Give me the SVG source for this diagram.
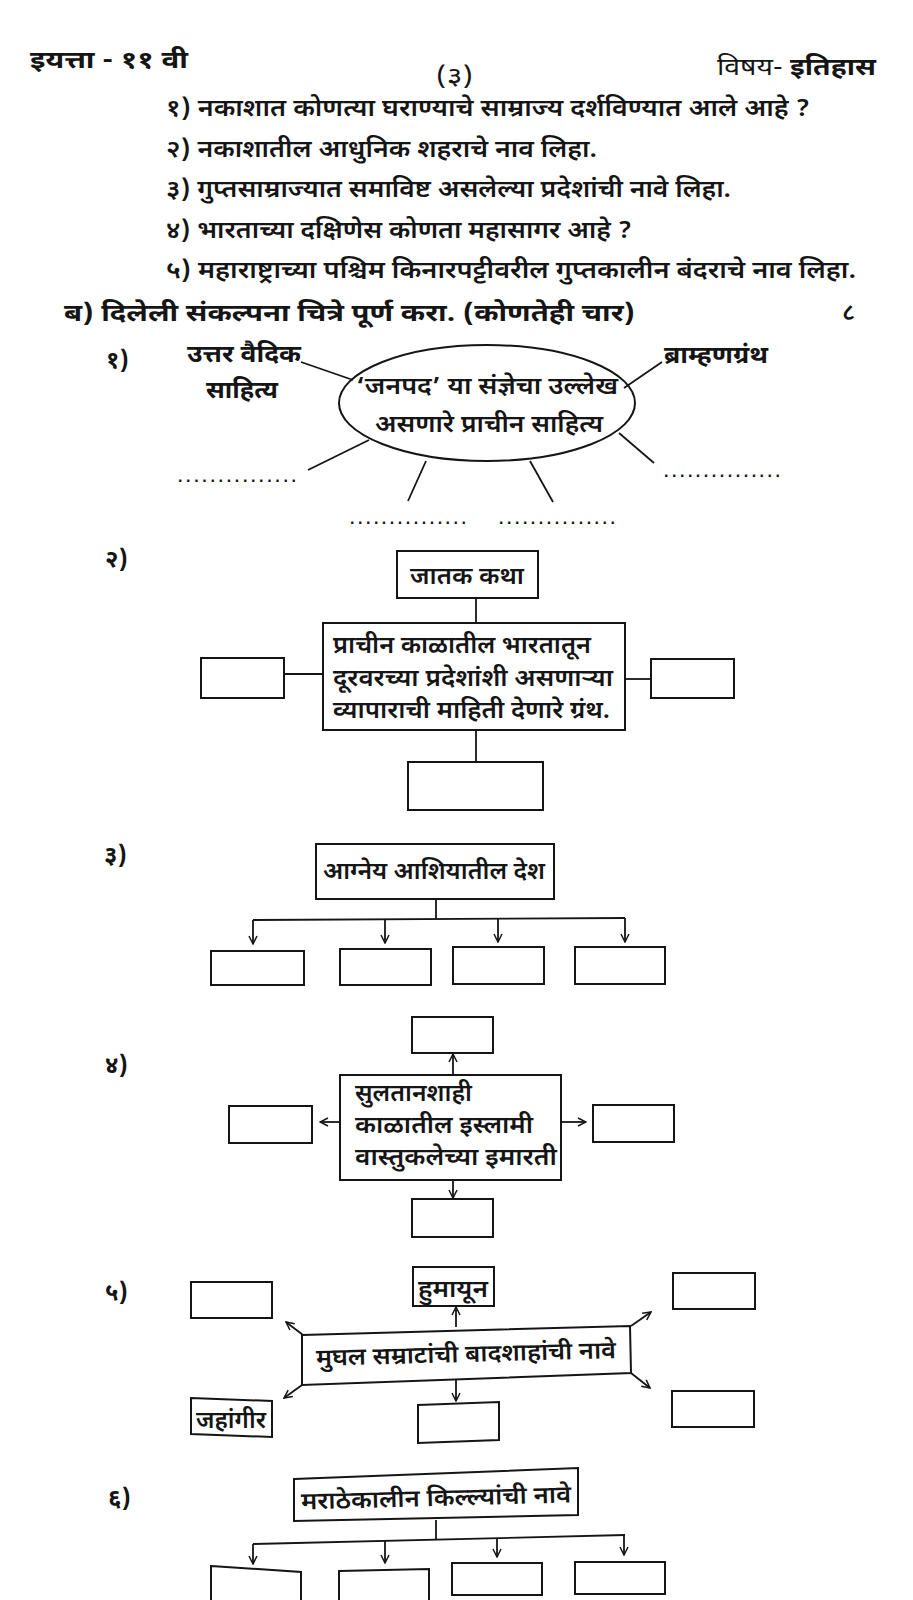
<svg xmlns="http://www.w3.org/2000/svg" width="913" height="1600" viewBox="0 0 913 1600">
<defs>
<style>
.t{font-family:'Noto Sans Devanagari','Noto Sans','DejaVu Sans',sans-serif;fill:#151515;font-size:24px;font-weight:600}
.b{font-weight:bold}
.r{font-weight:normal}
.box{fill:none;stroke:#151515;stroke-width:2}
.ln{fill:none;stroke:#151515;stroke-width:1.8}
.dots{font-family:'Liberation Sans',sans-serif;font-weight:bold;font-size:16px;fill:#151515}
</style>
<marker id="ah" viewBox="0 0 10 10" refX="9" refY="5" markerWidth="10" markerHeight="10" markerUnits="userSpaceOnUse" orient="auto">
<path d="M1,1 L9,5 L1,9" fill="none" stroke="#151515" stroke-width="1.5"/>
</marker>
</defs>
<rect width="913" height="1600" fill="#ffffff"/>

<g id="header">
<text class="t b" x="30" y="68" textLength="158" lengthAdjust="spacingAndGlyphs">इयत्ता - ११ वी</text>
<text class="t r" x="436" y="84" textLength="37" lengthAdjust="spacingAndGlyphs">(३)</text>
<text class="t" x="717" y="75" textLength="159" lengthAdjust="spacingAndGlyphs"><tspan class="r">विषय- </tspan><tspan class="b">इतिहास</tspan></text>
</g>

<g id="questions">
<text class="t" x="166" y="116" textLength="644" lengthAdjust="spacingAndGlyphs">१) नकाशात कोणत्या घराण्याचे साम्राज्य दर्शविण्यात आले आहे ?</text>
<text class="t" x="166" y="157" textLength="431" lengthAdjust="spacingAndGlyphs">२) नकाशातील आधुनिक शहराचे नाव लिहा.</text>
<text class="t" x="166" y="197" textLength="565" lengthAdjust="spacingAndGlyphs">३) गुप्तसाम्राज्यात समाविष्ट असलेल्या प्रदेशांची नावे लिहा.</text>
<text class="t" x="166" y="238" textLength="466" lengthAdjust="spacingAndGlyphs">४) भारताच्या दक्षिणेस कोणता महासागर आहे ?</text>
<text class="t" x="166" y="278" textLength="690" lengthAdjust="spacingAndGlyphs">५) महाराष्ट्राच्या पश्चिम किनारपट्टीवरील गुप्तकालीन बंदराचे नाव लिहा.</text>
<text class="t b" x="64" y="321" font-size="25" textLength="571" lengthAdjust="spacingAndGlyphs">ब) दिलेली संकल्पना चित्रे पूर्ण करा. (कोणतेही चार)</text>
<text class="t" x="842" y="320">८</text>
</g>

<g id="connectors">
<!-- diagram 1 -->
<line class="ln" x1="301" y1="362" x2="353" y2="380"/>
<line class="ln" x1="624" y1="388" x2="662" y2="362"/>
<line class="ln" x1="369" y1="440" x2="308" y2="470"/>
<line class="ln" x1="619" y1="433" x2="654" y2="463"/>
<line class="ln" x1="426" y1="461" x2="408" y2="501"/>
<line class="ln" x1="530" y1="461" x2="553" y2="502"/>
<!-- diagram 2 -->
<line class="ln" x1="476" y1="598" x2="476" y2="623"/>
<line class="ln" x1="284" y1="674" x2="323" y2="674"/>
<line class="ln" x1="625" y1="679" x2="651" y2="679"/>
<line class="ln" x1="476" y1="730" x2="476" y2="762"/>
<!-- diagram 3 -->
<line class="ln" x1="436" y1="899" x2="436" y2="919"/>
<line class="ln" x1="253" y1="920" x2="625" y2="918"/>
<line class="ln" x1="253" y1="920" x2="253" y2="944" marker-end="url(#ah)"/>
<line class="ln" x1="385" y1="919" x2="385" y2="943" marker-end="url(#ah)"/>
<line class="ln" x1="498" y1="919" x2="498" y2="942" marker-end="url(#ah)"/>
<line class="ln" x1="625" y1="918" x2="625" y2="942" marker-end="url(#ah)"/>
<!-- diagram 4 -->
<line class="ln" x1="453" y1="1075" x2="453" y2="1054" marker-end="url(#ah)"/>
<line class="ln" x1="340" y1="1122" x2="320" y2="1122" marker-end="url(#ah)"/>
<line class="ln" x1="561" y1="1122" x2="586" y2="1122" marker-end="url(#ah)"/>
<line class="ln" x1="453" y1="1180" x2="453" y2="1198" marker-end="url(#ah)"/>
<!-- diagram 5 -->
<line class="ln" x1="456" y1="1327" x2="456" y2="1307" marker-end="url(#ah)"/>
<line class="ln" x1="303" y1="1335" x2="286" y2="1322" marker-end="url(#ah)"/>
<line class="ln" x1="631" y1="1326" x2="651" y2="1312" marker-end="url(#ah)"/>
<line class="ln" x1="302" y1="1385" x2="284" y2="1398" marker-end="url(#ah)"/>
<line class="ln" x1="631" y1="1373" x2="650" y2="1388" marker-end="url(#ah)"/>
<line class="ln" x1="456" y1="1380" x2="456" y2="1401" marker-end="url(#ah)"/>
<!-- diagram 6 -->
<line class="ln" x1="436" y1="1520" x2="436" y2="1539"/>
<line class="ln" x1="253" y1="1544" x2="625" y2="1535"/>
<line class="ln" x1="253" y1="1544" x2="253" y2="1564" marker-end="url(#ah)"/>
<line class="ln" x1="385" y1="1541" x2="385" y2="1563" marker-end="url(#ah)"/>
<line class="ln" x1="497" y1="1538" x2="497" y2="1557" marker-end="url(#ah)"/>
<line class="ln" x1="624" y1="1535" x2="624" y2="1555" marker-end="url(#ah)"/>
</g>

<g id="d1">
<text class="t b" x="106" y="368">१)</text>
<g id="d1-center">
<ellipse class="box" cx="487" cy="403" rx="148" ry="58"/>
<text class="t" x="487" y="394" text-anchor="middle" textLength="262" lengthAdjust="spacingAndGlyphs">‘जनपद’ या संज्ञेचा उल्लेख</text>
<text class="t" x="489" y="432" text-anchor="middle" textLength="228" lengthAdjust="spacingAndGlyphs">असणारे प्राचीन साहित्य</text>
</g>
<g id="d1-uttar">
<text class="t b" x="187" y="362" textLength="114" lengthAdjust="spacingAndGlyphs">उत्तर वैदिक</text>
<text class="t b" x="206" y="398" textLength="72" lengthAdjust="spacingAndGlyphs">साहित्य</text>
</g>
<g id="d1-brahman"><text class="t b" x="664" y="363" textLength="104" lengthAdjust="spacingAndGlyphs">ब्राम्हणग्रंथ</text></g>
<g id="d1-blank1"><text class="dots" x="178" y="482" textLength="118">...............</text></g>
<g id="d1-blank2"><text class="dots" x="664" y="477" textLength="116">...............</text></g>
<g id="d1-blank3"><text class="dots" x="350" y="524" textLength="116">...............</text></g>
<g id="d1-blank4"><text class="dots" x="499" y="524" textLength="116">...............</text></g>
</g>

<g id="d2">
<text class="t b" x="105" y="567">२)</text>
<g id="d2-jatak"><rect class="box" x="397" y="551" width="141" height="47"/>
<text class="t" x="467" y="584" text-anchor="middle" textLength="114" lengthAdjust="spacingAndGlyphs">जातक कथा</text></g>
<g id="d2-center"><rect class="box" x="323" y="623" width="302" height="107"/>
<text class="t" x="333" y="653" textLength="258" lengthAdjust="spacingAndGlyphs">प्राचीन काळातील भारतातून</text>
<text class="t" x="333" y="686" textLength="280" lengthAdjust="spacingAndGlyphs">दूरवरच्या प्रदेशांशी असणाऱ्या</text>
<text class="t" x="333" y="718" textLength="277" lengthAdjust="spacingAndGlyphs">व्यापाराची माहिती देणारे ग्रंथ.</text></g>
<g id="d2-left"><rect class="box" x="201" y="658" width="83" height="40"/></g>
<g id="d2-right"><rect class="box" x="651" y="659" width="83" height="39"/></g>
<g id="d2-bottom"><rect class="box" x="408" y="762" width="135" height="48"/></g>
</g>

<g id="d3">
<text class="t b" x="104" y="863">३)</text>
<g id="d3-center"><rect class="box" x="316" y="844" width="238" height="55"/>
<text class="t" x="434" y="879" text-anchor="middle" textLength="222" lengthAdjust="spacingAndGlyphs">आग्नेय आशियातील देश</text></g>
<g id="d3-b1"><rect class="box" x="211" y="951" width="93" height="34"/></g>
<g id="d3-b2"><rect class="box" x="340" y="949" width="91" height="36"/></g>
<g id="d3-b3"><rect class="box" x="453" y="947" width="91" height="37"/></g>
<g id="d3-b4"><rect class="box" x="575" y="947" width="90" height="37"/></g>
</g>

<g id="d4">
<text class="t b" x="105" y="1073">४)</text>
<g id="d4-top"><rect class="box" x="412" y="1017" width="81" height="36"/></g>
<g id="d4-center"><rect class="box" x="340" y="1075" width="221" height="105"/>
<text class="t" x="355" y="1101" textLength="117" lengthAdjust="spacingAndGlyphs">सुलतानशाही</text>
<text class="t" x="355" y="1133" textLength="178" lengthAdjust="spacingAndGlyphs">काळातील इस्लामी</text>
<text class="t" x="355" y="1165" textLength="202" lengthAdjust="spacingAndGlyphs">वास्तुकलेच्या इमारती</text></g>
<g id="d4-left"><rect class="box" x="229" y="1106" width="83" height="37"/></g>
<g id="d4-right"><rect class="box" x="593" y="1105" width="81" height="37"/></g>
<g id="d4-bottom"><rect class="box" x="412" y="1199" width="81" height="38"/></g>
</g>

<g id="d5">
<text class="t b" x="105" y="1300">५)</text>
<g id="d5-tl"><rect class="box" x="191" y="1282" width="81" height="36"/></g>
<g id="d5-humayun"><rect class="box" x="413" y="1267" width="81" height="39"/>
<text class="t" x="453" y="1297" text-anchor="middle" textLength="70" lengthAdjust="spacingAndGlyphs">हुमायून</text></g>
<g id="d5-tr"><rect class="box" x="673" y="1273" width="82" height="36"/></g>
<g id="d5-center"><polygon class="box" points="302,1335 630,1326 631,1373 302,1385"/>
<text class="t" x="466" y="1362" text-anchor="middle" textLength="300" lengthAdjust="spacingAndGlyphs" transform="rotate(-1.5 466 1355)">मुघल सम्राटांची बादशाहांची नावे</text></g>
<g id="d5-jahangir"><polygon class="box" points="191,1398 272,1401 272,1437 191,1434"/>
<text class="t" x="231" y="1428" text-anchor="middle" textLength="70" lengthAdjust="spacingAndGlyphs">जहांगीर</text></g>
<g id="d5-bottom"><polygon class="box" points="418,1405 499,1402 499,1440 418,1443"/></g>
<g id="d5-br"><rect class="box" x="672" y="1391" width="82" height="36"/></g>
</g>

<g id="d6">
<text class="t b" x="108" y="1506">६)</text>
<g id="d6-center"><polygon class="box" points="294,1479 578,1468 578,1515 294,1521"/>
<text class="t" x="436" y="1506" text-anchor="middle" textLength="270" lengthAdjust="spacingAndGlyphs" transform="rotate(-1.5 436 1496)">मराठेकालीन किल्ल्यांची नावे</text></g>
<g id="d6-b1"><polygon class="box" points="211,1566 301,1572 301,1610 211,1610"/></g>
<g id="d6-b2"><polygon class="box" points="339,1571 429,1569 429,1610 339,1610"/></g>
<g id="d6-b3"><rect class="box" x="452" y="1563" width="90" height="32"/></g>
<g id="d6-b4"><rect class="box" x="575" y="1562" width="90" height="32"/></g>
</g>
</svg>
